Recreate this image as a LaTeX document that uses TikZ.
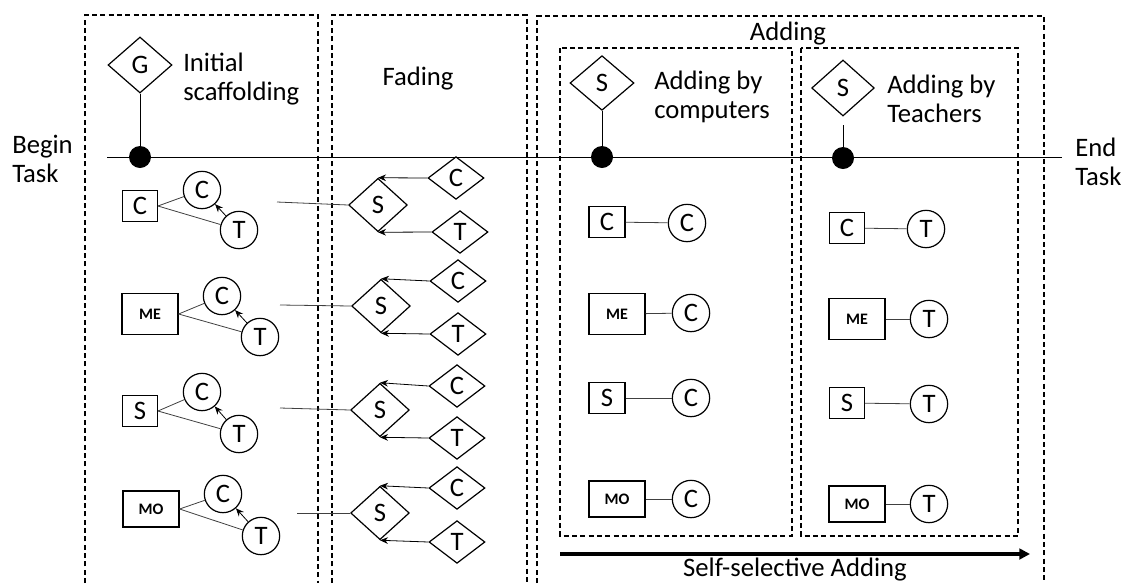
\documentclass[tikz,border=0pt]{standalone}
\usepackage{fontspec}
\setmainfont{Carlito}
\usetikzlibrary{arrows.meta,positioning,shapes.geometric}

\begin{document}
\begin{tikzpicture}[
  x=0.75pt, y=-0.75pt,
  phase/.style={draw, line width=1pt, dash pattern=on 3.75pt off 2.5pt},
  heading/.style={font=\fontsize{20}{22}\selectfont, align=left, inner sep=0pt},
  decision/.style={draw, diamond, line width=0.9pt, inner sep=0pt,
    font=\fontsize{20}{22}\selectfont},
  agent/.style={draw, circle, line width=0.9pt, minimum size=28pt,
    inner sep=0pt, font=\fontsize{20}{22}\selectfont},
  task/.style={draw, rectangle, line width=0.9pt, inner sep=0pt,
    minimum width=26pt, minimum height=23pt, font=\fontsize{20}{22}\selectfont},
  widetask/.style={task, minimum width=42pt, minimum height=31pt,
    font=\fontsize{12}{14}\selectfont\bfseries},
  dot/.style={circle, fill, minimum size=16.5pt, inner sep=0pt},
  link/.style={line width=0.6pt, draw=black!75},
  arrow/.style={-{Stealth[length=6pt, width=5pt]}, line width=0.6pt}
]
  \useasboundingbox (0,0) rectangle (1122,583);

  % phase frames
  \draw[phase] (85,583) -- (85,15) -- (318,15) -- (318,583);
  \draw[phase] (332,583) -- (332,15) -- (527,15) -- (527,583);
  \draw[phase] (537,583) -- (537,16) -- (1044,16) -- (1044,583);
  \draw[phase] (560,48) rectangle (792,536);
  \draw[phase] (801,48) rectangle (1018,536);

  % labels
  \node[heading, anchor=west] (begin) at (12,159) {Begin\\Task};
  \node[heading, anchor=west] (end) at (1075,162) {End\\Task};
  \node[heading, anchor=west] (initial) at (183,79) {Initial\\scaffolding};
  \node[heading, anchor=base] (fading) at (418,85) {Fading};
  \node[heading, anchor=base] (adding) at (788,40) {Adding};
  \node[heading, anchor=west] (bycomp) at (654,97) {Adding by\\computers};
  \node[heading, anchor=west] (byteach) at (887,99) {Adding by\\Teachers};
  \node[heading, anchor=base] (selfsel) at (795,576) {Self-selective Adding};

  % time line
  \coordinate (start) at (107,157);
  \coordinate (stop) at (1062,157);
  \draw[line width=0.6pt] (start) -- (stop);

  \node[decision, minimum width=48pt, minimum height=42pt] (g) at (140,65) {G};
  \node[dot] (d1) at (140,157) {};
  \draw[line width=0.6pt] (g) -- (d1);
  \node[decision, minimum width=48pt, minimum height=41pt] (sc) at (602,83) {S};
  \node[dot] (d2) at (602,157) {};
  \draw[line width=0.6pt] (sc) -- (d2);
  \node[decision, minimum width=47pt, minimum height=42pt] (st) at (843,88) {S};
  \node[dot] (d3) at (843,158) {};
  \draw[line width=0.6pt, shorten <=6.5pt] (st) -- (d3);

  % initial scaffolding
  \node[task] (ic1) at (140,206) {C};
  \node[agent] (icc1) at (202,190) {C};
  \node[agent] (ict1) at (239,230) {T};
  \draw[link] (ic1.east) -- (icc1);
  \draw[link] (ic1.east) -- (ict1);
  \draw[arrow] (ict1) -- (icc1);

  \node[widetask] (ic2) at (150,314) {ME};
  \node[agent] (icc2) at (222,296) {C};
  \node[agent] (ict2) at (260,337) {T};
  \draw[link] (ic2.east) -- (icc2);
  \draw[link] (ic2.east) -- (ict2);
  \draw[arrow] (ict2) -- (icc2);

  \node[task] (ic3) at (140,411) {S};
  \node[agent] (icc3) at (202,392) {C};
  \node[agent] (ict3) at (239,434) {T};
  \draw[link] (ic3.east) -- (icc3);
  \draw[link] (ic3.east) -- (ict3);
  \draw[arrow] (ict3) -- (icc3);

  \node[widetask, minimum height=27pt] (ic4) at (151,509) {MO};
  \node[agent] (icc4) at (223,494) {C};
  \node[agent] (ict4) at (261,536) {T};
  \draw[link] (ic4.east) -- (icc4);
  \draw[link] (ic4.east) -- (ict4);
  \draw[arrow] (ict4) -- (icc4);

  % fading
  \node[decision, minimum width=44pt, minimum height=40pt] (fs1) at (378,205) {S};
  \node[decision, minimum width=42pt, minimum height=32pt] (fc1) at (456,178) {C};
  \node[decision, minimum width=42pt, minimum height=32pt] (ft1) at (460,232) {T};
  \coordinate (in1) at (277,202);
  \draw[link] (in1) -- (fs1.west);
  \draw[arrow] (fc1.west) -- (fs1.north);
  \draw[arrow] (ft1.west) -- (fs1.south);

  \node[decision, minimum width=44pt, minimum height=40pt] (fs2) at (381,306) {S};
  \node[decision, minimum width=42pt, minimum height=32pt] (fc2) at (458,281) {C};
  \node[decision, minimum width=42pt, minimum height=32pt] (ft2) at (458,334) {T};
  \coordinate (in2) at (280,305);
  \draw[link] (in2) -- (fs2.west);
  \draw[arrow] (fc2.west) -- (fs2.north);
  \draw[arrow] (ft2.west) -- (fs2.south);

  \node[decision, minimum width=44pt, minimum height=40pt] (fs3) at (380,410) {S};
  \node[decision, minimum width=42pt, minimum height=32pt] (fc3) at (457,386) {C};
  \node[decision, minimum width=42pt, minimum height=32pt] (ft3) at (457,438) {T};
  \coordinate (in3) at (280,408);
  \draw[link] (in3) -- (fs3.west);
  \draw[arrow] (fc3.west) -- (fs3.north);
  \draw[arrow] (ft3.west) -- (fs3.south);

  \node[decision, minimum width=44pt, minimum height=40pt] (fs4) at (380,513) {S};
  \node[decision, minimum width=42pt, minimum height=32pt] (fc4) at (457,488) {C};
  \node[decision, minimum width=42pt, minimum height=32pt] (ft4) at (457,542) {T};
  \coordinate (in4) at (297,513);
  \draw[link] (in4) -- (fs4.west);
  \draw[arrow] (fc4.west) -- (fs4.north);
  \draw[arrow] (ft4.west) -- (fs4.south);

  % adding by computers
  \node[task, minimum width=27pt] (ac1) at (607,222) {C};
  \node[agent] (acc1) at (687,223) {C};
  \draw[link] (ac1) -- (acc1);
  \node[widetask] (ac2) at (617,314) {ME};
  \node[agent] (acc2) at (691,313) {C};
  \draw[link] (ac2) -- (acc2);
  \node[task, minimum width=27pt] (ac3) at (607,398) {S};
  \node[agent] (acc3) at (691,398) {C};
  \draw[link] (ac3) -- (acc3);
  \node[widetask, minimum height=27pt] (ac4) at (617,499) {MO};
  \node[agent] (acc4) at (691,499) {C};
  \draw[link] (ac4) -- (acc4);

  % adding by teachers
  \node[task] (at1) at (847,228) {C};
  \node[agent] (att1) at (926,229) {T};
  \draw[link] (at1) -- (att1);
  \node[widetask] (at2) at (857,319) {ME};
  \node[agent] (att2) at (929,319) {T};
  \draw[link] (at2) -- (att2);
  \node[task] (at3) at (847,403) {S};
  \node[agent] (att3) at (929,404) {T};
  \draw[link] (at3) -- (att3);
  \node[widetask, minimum height=27pt] (at4) at (857,504) {MO};
  \node[agent] (att4) at (929,504) {T};
  \draw[link] (at4) -- (att4);

  % self-selective adding
  \coordinate (selfstart) at (560,554);
  \coordinate (selfend) at (1030,554);
  \draw[line width=3pt, -{Triangle[length=8pt, width=8pt]}] (selfstart) -- (selfend);
\end{tikzpicture}
\end{document}
